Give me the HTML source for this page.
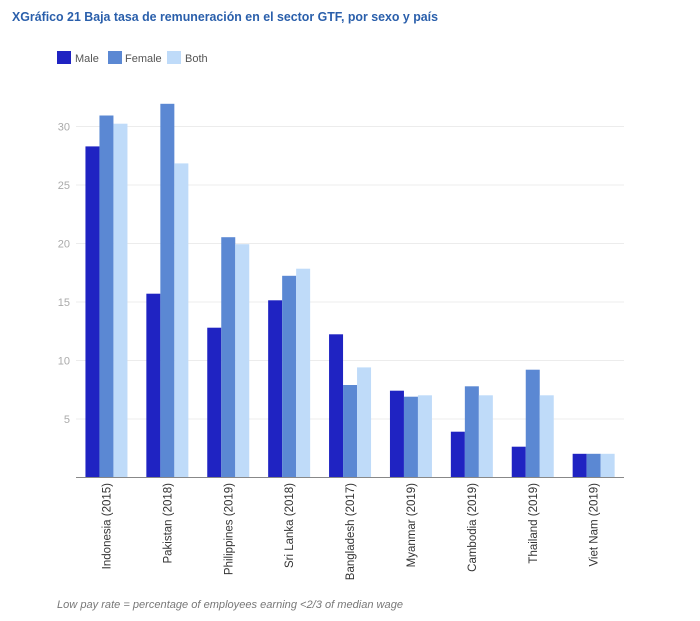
<!DOCTYPE html>
<html>
<head>
<meta charset="utf-8">
<style>
html,body{margin:0;padding:0;background:#fff;}
svg{display:block;}
text{font-family:"Liberation Sans",Arial,sans-serif;}
</style>
</head>
<body>
<svg width="700" height="621" viewBox="0 0 700 621" xmlns="http://www.w3.org/2000/svg">
<rect width="700" height="621" fill="#fff"/>
<text x="12" y="21" font-size="12.5" font-weight="bold" fill="#2a5fab" textLength="426" lengthAdjust="spacingAndGlyphs">XGráfico 21 Baja tasa de remuneración en el sector GTF, por sexo y país</text>

<!-- legend -->
<rect x="57" y="51" width="14" height="13" fill="#1f23c2"/>
<text x="75" y="62" font-size="11" fill="#555">Male</text>
<rect x="108" y="51" width="14" height="13" fill="#5b88d3"/>
<text x="125" y="62" font-size="11" fill="#555">Female</text>
<rect x="167" y="51" width="14" height="13" fill="#bfdbf9"/>
<text x="185" y="62" font-size="11" fill="#555">Both</text>

<!-- gridlines -->
<g stroke="#ececec" stroke-width="1">
<line x1="76" x2="624" y1="126.5" y2="126.5"/>
<line x1="76" x2="624" y1="185" y2="185"/>
<line x1="76" x2="624" y1="243.5" y2="243.5"/>
<line x1="76" x2="624" y1="302" y2="302"/>
<line x1="76" x2="624" y1="360.5" y2="360.5"/>
<line x1="76" x2="624" y1="419" y2="419"/>
</g>
<g font-size="11" fill="#aaa" text-anchor="end">
<text x="70" y="130.5">30</text>
<text x="70" y="189">25</text>
<text x="70" y="247.5">20</text>
<text x="70" y="306">15</text>
<text x="70" y="364.5">10</text>
<text x="70" y="423">5</text>
</g>

<!-- bars -->
<g>
<!-- Indonesia cx=106.45 -->
<rect x="85.45" y="146.4" width="14" height="330.6" fill="#1f23c2"/>
<rect x="99.45" y="115.5" width="14" height="361.5" fill="#5b88d3"/>
<rect x="113.45" y="123.7" width="14" height="353.3" fill="#bfdbf9"/>
<!-- Pakistan cx=167.35 -->
<rect x="146.35" y="293.7" width="14" height="183.3" fill="#1f23c2"/>
<rect x="160.35" y="103.8" width="14" height="373.2" fill="#5b88d3"/>
<rect x="174.35" y="163.4" width="14" height="313.6" fill="#bfdbf9"/>
<!-- Philippines cx=228.25 -->
<rect x="207.25" y="327.7" width="14" height="149.3" fill="#1f23c2"/>
<rect x="221.25" y="237.2" width="14" height="239.8" fill="#5b88d3"/>
<rect x="235.25" y="244.2" width="14" height="232.8" fill="#bfdbf9"/>
<!-- Sri Lanka cx=289.15 -->
<rect x="268.15" y="300.3" width="14" height="176.7" fill="#1f23c2"/>
<rect x="282.15" y="275.8" width="14" height="201.2" fill="#5b88d3"/>
<rect x="296.15" y="268.7" width="14" height="208.3" fill="#bfdbf9"/>
<!-- Bangladesh cx=350.05 -->
<rect x="329.05" y="334.3" width="14" height="142.7" fill="#1f23c2"/>
<rect x="343.05" y="385" width="14" height="92" fill="#5b88d3"/>
<rect x="357.05" y="367.4" width="14" height="109.6" fill="#bfdbf9"/>
<!-- Myanmar cx=410.95 -->
<rect x="389.95" y="390.7" width="14" height="86.3" fill="#1f23c2"/>
<rect x="403.95" y="396.7" width="14" height="80.3" fill="#5b88d3"/>
<rect x="417.95" y="395.3" width="14" height="81.7" fill="#bfdbf9"/>
<!-- Cambodia cx=471.85 -->
<rect x="450.85" y="431.7" width="14" height="45.3" fill="#1f23c2"/>
<rect x="464.85" y="386.3" width="14" height="90.7" fill="#5b88d3"/>
<rect x="478.85" y="395.3" width="14" height="81.7" fill="#bfdbf9"/>
<!-- Thailand cx=532.75 -->
<rect x="511.75" y="446.7" width="14" height="30.3" fill="#1f23c2"/>
<rect x="525.75" y="369.7" width="14" height="107.3" fill="#5b88d3"/>
<rect x="539.75" y="395.3" width="14" height="81.7" fill="#bfdbf9"/>
<!-- Viet Nam cx=593.65 -->
<rect x="572.65" y="453.8" width="14" height="23.2" fill="#1f23c2"/>
<rect x="586.65" y="453.8" width="14" height="23.2" fill="#5b88d3"/>
<rect x="600.65" y="453.8" width="14" height="23.2" fill="#bfdbf9"/>
</g>

<line x1="76" x2="624" y1="477.5" y2="477.5" stroke="#888" stroke-width="1"/>

<!-- x labels -->
<g font-size="11.5" fill="#333" text-anchor="end">
<text transform="translate(110.5,483) rotate(-90)">Indonesia (2015)</text>
<text transform="translate(171.4,483) rotate(-90)">Pakistan (2018)</text>
<text transform="translate(232.3,483) rotate(-90)">Philippines (2019)</text>
<text transform="translate(293.2,483) rotate(-90)">Sri Lanka (2018)</text>
<text transform="translate(354.1,483) rotate(-90)">Bangladesh (2017)</text>
<text transform="translate(415,483) rotate(-90)">Myanmar (2019)</text>
<text transform="translate(475.9,483) rotate(-90)">Cambodia (2019)</text>
<text transform="translate(536.8,483) rotate(-90)">Thailand (2019)</text>
<text transform="translate(597.7,483) rotate(-90)">Viet Nam (2019)</text>
</g>

<text x="57" y="608" font-size="11" font-style="italic" fill="#777" textLength="346" lengthAdjust="spacingAndGlyphs">Low pay rate = percentage of employees earning &lt;2/3 of median wage</text>
</svg>
</body>
</html>
